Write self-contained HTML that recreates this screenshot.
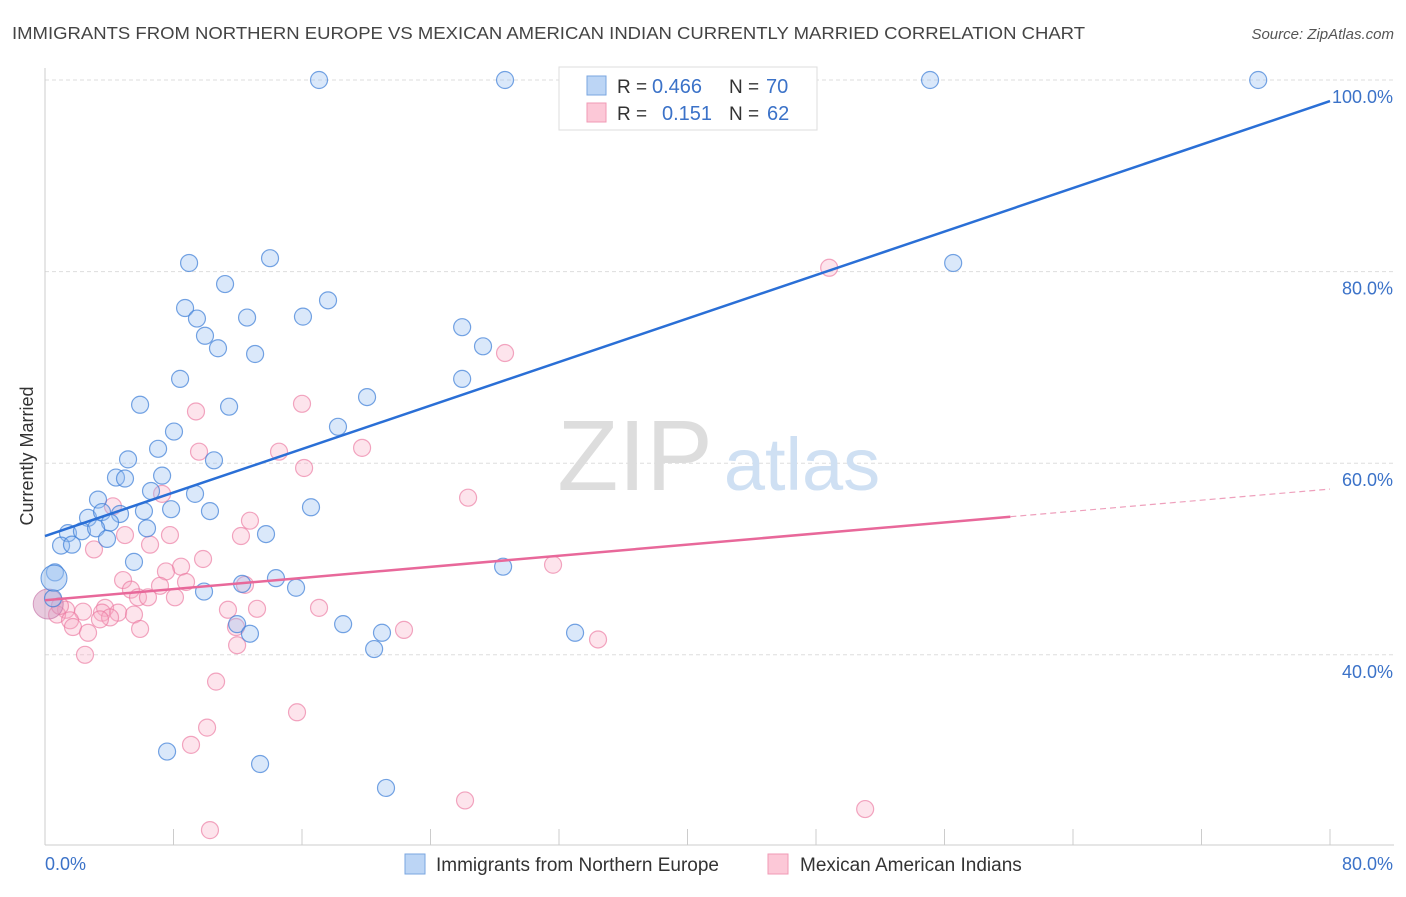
<!DOCTYPE html>
<html><head><meta charset="utf-8"><style>
body{margin:0;background:#fff;font-family:"Liberation Sans",sans-serif;}
svg text{font-family:"Liberation Sans",sans-serif;}
</style></head><body>
<svg id="chart" width="1406" height="892" xmlns="http://www.w3.org/2000/svg">
<text x="12" y="39" font-size="17.5" fill="#444" textLength="1073" lengthAdjust="spacingAndGlyphs">IMMIGRANTS FROM NORTHERN EUROPE VS MEXICAN AMERICAN INDIAN CURRENTLY MARRIED CORRELATION CHART</text>
<text x="1394" y="39" font-size="15" fill="#555" text-anchor="end" font-style="italic">Source: ZipAtlas.com</text>
<g id="grid"></g>
<g>
<text x="635" y="490" font-size="100" font-family="Liberation Serif" fill="#ddd" text-anchor="middle">ZIP</text>
<text x="802" y="490" font-size="74" fill="#cfe0f3" text-anchor="middle">atlas</text>
</g>
<text transform="translate(33,456) rotate(-90)" font-size="18" fill="#333" text-anchor="middle">Currently Married</text>
<g id="axes"></g>
<g id="pink"></g>
<g id="blue"></g>
<g id="lines"></g>
<g>
<rect x="559" y="67" width="258" height="63" fill="#fff" stroke="#ddd"/>
<rect x="587" y="76" width="19" height="19" fill="#bcd5f5" stroke="#7aa6e0"/>
<rect x="587" y="103" width="19" height="19" fill="#fcc8d7" stroke="#f09ab5"/>
<text x="617" y="93" font-size="19" fill="#333">R =</text>
<text x="652" y="93" font-size="20" fill="#3b72c8">0.466</text>
<text x="729" y="93" font-size="19" fill="#333">N =</text>
<text x="766" y="93" font-size="20" fill="#3b72c8">70</text>
<text x="617" y="120" font-size="19" fill="#333">R =</text>
<text x="662" y="120" font-size="20" fill="#3b72c8">0.151</text>
<text x="729" y="120" font-size="19" fill="#333">N =</text>
<text x="767" y="120" font-size="20" fill="#3b72c8">62</text>
</g>
<g>
<rect x="405" y="854" width="20" height="20" fill="#bcd5f5" stroke="#7aa6e0"/>
<text x="436" y="871" font-size="19" fill="#333">Immigrants from Northern Europe</text>
<rect x="768" y="854" width="20" height="20" fill="#fcc8d7" stroke="#f09ab5"/>
<text x="800" y="871" font-size="19" fill="#333">Mexican American Indians</text>
</g>
</svg>
<script>
const blueX=[17.06,28.64,55.1,75.53,56.54,8.97,14.01,11.21,8.72,9.46,12.58,17.62,16.06,9.96,10.77,13.08,25.97,27.27,8.41,25.97,20.05,5.92,11.46,18.24,8.03,7.04,5.17,10.52,7.29,4.42,4.98,6.6,9.34,3.3,16.56,6.16,7.85,10.27,2.68,3.55,4.67,4.05,6.35,1.43,2.3,3.18,3.86,1.0,1.68,13.76,5.54,0.62,0.5,28.52,14.38,12.27,15.63,9.9,11.96,18.56,12.76,20.98,20.49,33.0,7.6,13.39,21.23];
const blueY=[100,100,100,100,80.9,80.9,81.4,78.7,76.2,75.1,75.2,77.0,75.3,73.3,72.0,71.4,74.2,72.2,68.8,68.8,66.9,66.1,65.9,63.8,63.3,61.5,60.4,60.3,58.7,58.5,58.4,57.1,56.8,56.2,55.4,55.0,55.2,55.0,54.3,54.9,54.7,53.8,53.2,52.7,52.9,53.2,52.1,51.4,51.5,52.6,49.7,48.6,45.9,49.2,48.0,47.4,47.0,46.6,43.2,43.2,42.2,42.3,40.6,42.3,29.9,28.6,26.1];
const pinkX=[48.82,28.64,9.4,16.0,19.74,14.57,16.13,9.59,26.34,7.29,4.23,12.76,4.98,12.2,7.78,6.54,3.05,9.84,31.63,8.47,7.53,4.86,8.78,7.16,5.35,5.79,6.41,8.09,12.45,11.39,13.2,17.06,3.74,3.55,4.55,2.37,1.31,4.05,0.75,5.54,3.42,1.56,1.74,5.92,2.68,11.89,22.35,34.43,11.96,2.49,10.65,15.69,10.09,9.09,26.15,51.06,10.27,0.93];
const pinkY=[80.4,71.5,65.4,66.2,61.6,61.2,59.5,61.2,56.4,56.8,55.5,54.0,52.5,52.4,52.5,51.5,51.0,50.0,49.4,49.2,48.7,47.8,47.6,47.2,46.8,46.0,46.0,46.0,47.3,44.7,44.8,44.9,44.9,44.4,44.4,44.5,44.7,43.9,44.2,44.2,43.7,43.6,42.9,42.7,42.3,42.9,42.6,41.6,41.0,40.0,37.2,34.0,32.4,30.6,24.8,23.9,21.7,45.1];
const bigBlue=[0.56,48.0];
const bigPink=[0.2,45.3];
const yTicks=[100,80,60,40];
const yTickLabels=["100.0%","80.0%","60.0%","40.0%"];
const xTicks=[0,8,16,24,32,40,48,56,64,72,80];
const blueTrend=[52.4,97.8];
const pinkTrend=[45.7,57.3];
const pinkSolidEnd=60.1;

const NS="http://www.w3.org/2000/svg";
const X=v=>45+v*1285/80;
const Y=v=>80+(100-v)*9.58;
function mk(tag,attrs,parent){const e=document.createElementNS(NS,tag);for(const k in attrs)e.setAttribute(k,attrs[k]);parent.appendChild(e);return e;}
const grid=document.getElementById('grid'),axes=document.getElementById('axes');
yTicks.forEach((t,i)=>{
 const l=mk('line',{x1:45,x2:1394,y1:Y(t),y2:Y(t),stroke:'#ddd','stroke-dasharray':'4,3'},grid);
 
 
 const tx=mk('text',{x:1393,y:Y(t)+23,'font-size':18,fill:'#3b72c8','text-anchor':'end'},axes);
 tx.textContent=yTickLabels[i];
 
 
});
mk('line',{x1:45,x2:45,y1:68,y2:845,stroke:'#ccc'},axes);
mk('line',{x1:45,x2:1394,y1:845,y2:845,stroke:'#ccc'},axes);
xTicks.forEach(t=>{const l=mk('line',{x1:X(t),x2:X(t),y1:829,y2:845,stroke:'#ccc'},axes);
 
 });
let a=mk('text',{x:45,y:870,'font-size':18,fill:'#3b72c8'},axes);a.textContent='0.0%';


a=mk('text',{x:1393,y:870,'font-size':18,fill:'#3b72c8','text-anchor':'end'},axes);a.textContent='80.0%';


function pts(xs,ys,g,fill,stroke,name){xs.forEach((x,i)=>{const c=mk('circle',{cx:X(x),cy:Y(ys[i]),r:8.5,fill:fill,stroke:stroke,'stroke-width':1.2},g);
 
 });}
const pg=document.getElementById('pink'),bg=document.getElementById('blue');
pts(pinkX,pinkY,pg,'rgba(248,170,195,0.32)','rgba(235,120,160,0.65)','pink-point');
pts(blueX,blueY,bg,'rgba(150,190,240,0.35)','rgba(60,125,215,0.7)','blue-point');
let c=mk('circle',{cx:X(bigBlue[0]),cy:Y(bigBlue[1]),r:13,fill:'rgba(150,190,240,0.5)',stroke:'rgba(60,125,215,0.75)'},bg);


c=mk('circle',{cx:X(bigPink[0]),cy:Y(bigPink[1]),r:15,fill:'rgba(210,150,190,0.5)',stroke:'rgba(200,120,170,0.7)'},pg);


const lg=document.getElementById('lines');
let l=mk('line',{x1:X(0),y1:Y(blueTrend[0]),x2:X(80),y2:Y(blueTrend[1]),stroke:'#2a6fd6','stroke-width':2.5},lg);


const pAt=x=>pinkTrend[0]+(pinkTrend[1]-pinkTrend[0])*x/80;
l=mk('line',{x1:X(0),y1:Y(pAt(0)),x2:X(pinkSolidEnd),y2:Y(pAt(pinkSolidEnd)),stroke:'#e8689a','stroke-width':2.5},lg);


l=mk('line',{x1:X(pinkSolidEnd),y1:Y(pAt(pinkSolidEnd)),x2:X(80),y2:Y(pAt(80)),stroke:'#eea0bc','stroke-width':1.2,'stroke-dasharray':'6,4'},lg);


</script>
</body></html>
